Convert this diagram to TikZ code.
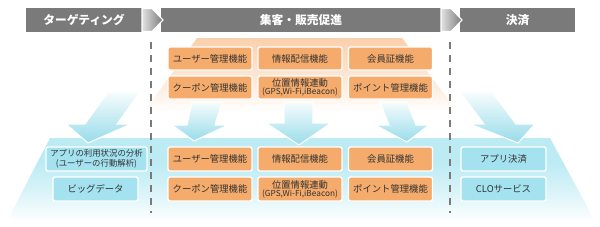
\documentclass[tikz,border=0pt]{standalone}
\usepackage{fontspec}
\setmainfont{Noto Sans CJK JP}
\definecolor{hdr}{HTML}{7A7A7A}
\definecolor{hdrlight}{HTML}{E2E2E2}
\definecolor{org}{HTML}{F5AB6B}
\definecolor{orgbg}{HTML}{FAD0AC}
\definecolor{blu}{HTML}{A3E2EE}
\definecolor{blubg}{HTML}{BDEBF4}
\definecolor{arrowblu}{HTML}{98DCEA}
\definecolor{txt}{HTML}{333333}
\pgfdeclareverticalshading{bluefade}{100bp}{color(0bp)=(white); color(25bp)=(white); color(42bp)=(blubg!55); color(60bp)=(blubg); color(100bp)=(blubg)}
\pgfdeclareverticalshading{orgfade}{100bp}{color(0bp)=(white); color(25bp)=(white); color(40bp)=(orgbg!35); color(75bp)=(orgbg); color(100bp)=(orgbg)}
\begin{document}
\begin{tikzpicture}[x=0.75pt,y=-0.75pt,
  hdrbox/.style={fill=hdr, text=white, font=\fontsize{8.8pt}{10pt}\selectfont\bfseries, minimum height=18pt, inner sep=0pt},
  obox/.style={fill=org, draw=white, line width=1pt, rounded corners=1.5pt, text=txt, font=\fontsize{7pt}{8pt}\selectfont, minimum width=63pt, minimum height=17.25pt, inner sep=0pt, align=center},
  bbox/.style={obox, fill=blu},
  small/.style={font=\fontsize{6.3pt}{7.6pt}\selectfont},
  bigarrow/.style={shading=axis, top color=white!92!arrowblu, bottom color=arrowblu, draw=white, line width=0.8pt, line join=miter},
  hdrarrow/.style={left color=hdrlight, right color=hdr, draw=white, line width=0.8pt},
  sep/.style={draw=hdr, line width=1.5pt, dash pattern=on 5.25pt off 4.5pt}
]
\useasboundingbox (0,0) rectangle (600,226);
% background trapezoids
\shade[shading=orgfade] (197,38) -- (402,38) -- (457,111) -- (145,111) -- cycle;
\shade[shading=bluefade] (50,138) -- (550,138) -- (595,221) -- (7,221) -- cycle;
% separators
\coordinate (s1t) at (151,42); \coordinate (s1b) at (151,213);
\coordinate (s2t) at (450,42); \coordinate (s2b) at (450,213);
\draw[sep] (s1t) -- (s1b);
\draw[sep] (s2t) -- (s2b);
% headers
\node[hdrbox, minimum width=87pt] (h1) at (84,20) {ターゲティング};
\node[hdrbox, minimum width=210pt] (h2) at (301,20) {集客・販売促進};
\node[hdrbox, minimum width=86.25pt] (h3) at (517.5,20) {決済};
\path[hdrarrow] (142,8.5) -- (152,8.5) -- (163,20) -- (152,31.5) -- (142,31.5) -- cycle;
\path[hdrarrow] (441,8.5) -- (451,8.5) -- (462,20) -- (451,31.5) -- (441,31.5) -- cycle;
% big arrows
\path[bigarrow] (108,92) -- (140,92) -- (117,124) -- (131,124) -- (88,143) -- (66,124) -- (85,124) -- cycle;
\path[bigarrow] (192,102) -- (222,102) -- (215,125) -- (228,125) -- (194,141) -- (172,125) -- (187,125) -- cycle;
\path[bigarrow] (284,102) -- (313,102) -- (313,123) -- (331,123) -- (299,145) -- (266,123) -- (284,123) -- cycle;
\path[bigarrow] (380,102) -- (407,102) -- (416,125) -- (429,125) -- (407,142) -- (375,125) -- (389,125) -- cycle;
\path[bigarrow] (460,92) -- (492,92) -- (516,124) -- (535,124) -- (518,143) -- (470,124) -- (484,124) -- cycle;
% upper boxes
\node[obox] (u11) at (210,58.5) {ユーザー管理機能};
\node[obox] (u12) at (300,58.5) {情報配信機能};
\node[obox] (u13) at (390.5,58.5) {会員証機能};
\node[obox] (u21) at (210,87.5) {クーポン管理機能};
\node[obox] (u22) at (300,87.5) {位置情報連動\\[-2pt]{\fontsize{6.2pt}{6.5pt}\selectfont (GPS,Wi-Fi,iBeacon)}};
\node[obox] (u23) at (390.5,87.5) {ポイント管理機能};
% lower boxes
\node[bbox, small, minimum width=75.75pt, minimum height=18pt] (l1) at (96.5,159) {アプリの利用状況の分析\\(ユーザーの行動解析)};
\node[bbox, minimum width=63.75pt, minimum height=18pt] (l2) at (95.5,189) {ビッグデータ};
\node[obox, minimum height=18pt] (m11) at (210,159) {ユーザー管理機能};
\node[obox, minimum height=18pt] (m12) at (300,159) {情報配信機能};
\node[obox, minimum height=18pt] (m13) at (390.5,159) {会員証機能};
\node[obox, minimum height=18pt] (m21) at (210,189) {クーポン管理機能};
\node[obox, minimum height=18pt] (m22) at (300,189) {位置情報連動\\[-2pt]{\fontsize{6.2pt}{6.5pt}\selectfont (GPS,Wi-Fi,iBeacon)}};
\node[obox, minimum height=18pt] (m23) at (390.5,189) {ポイント管理機能};
\node[bbox, minimum width=63.75pt, minimum height=18pt] (r1) at (503.5,159) {アプリ決済};
\node[bbox, minimum width=63.75pt, minimum height=18pt] (r2) at (503.5,189) {CLOサービス};
\end{tikzpicture}
\end{document}
